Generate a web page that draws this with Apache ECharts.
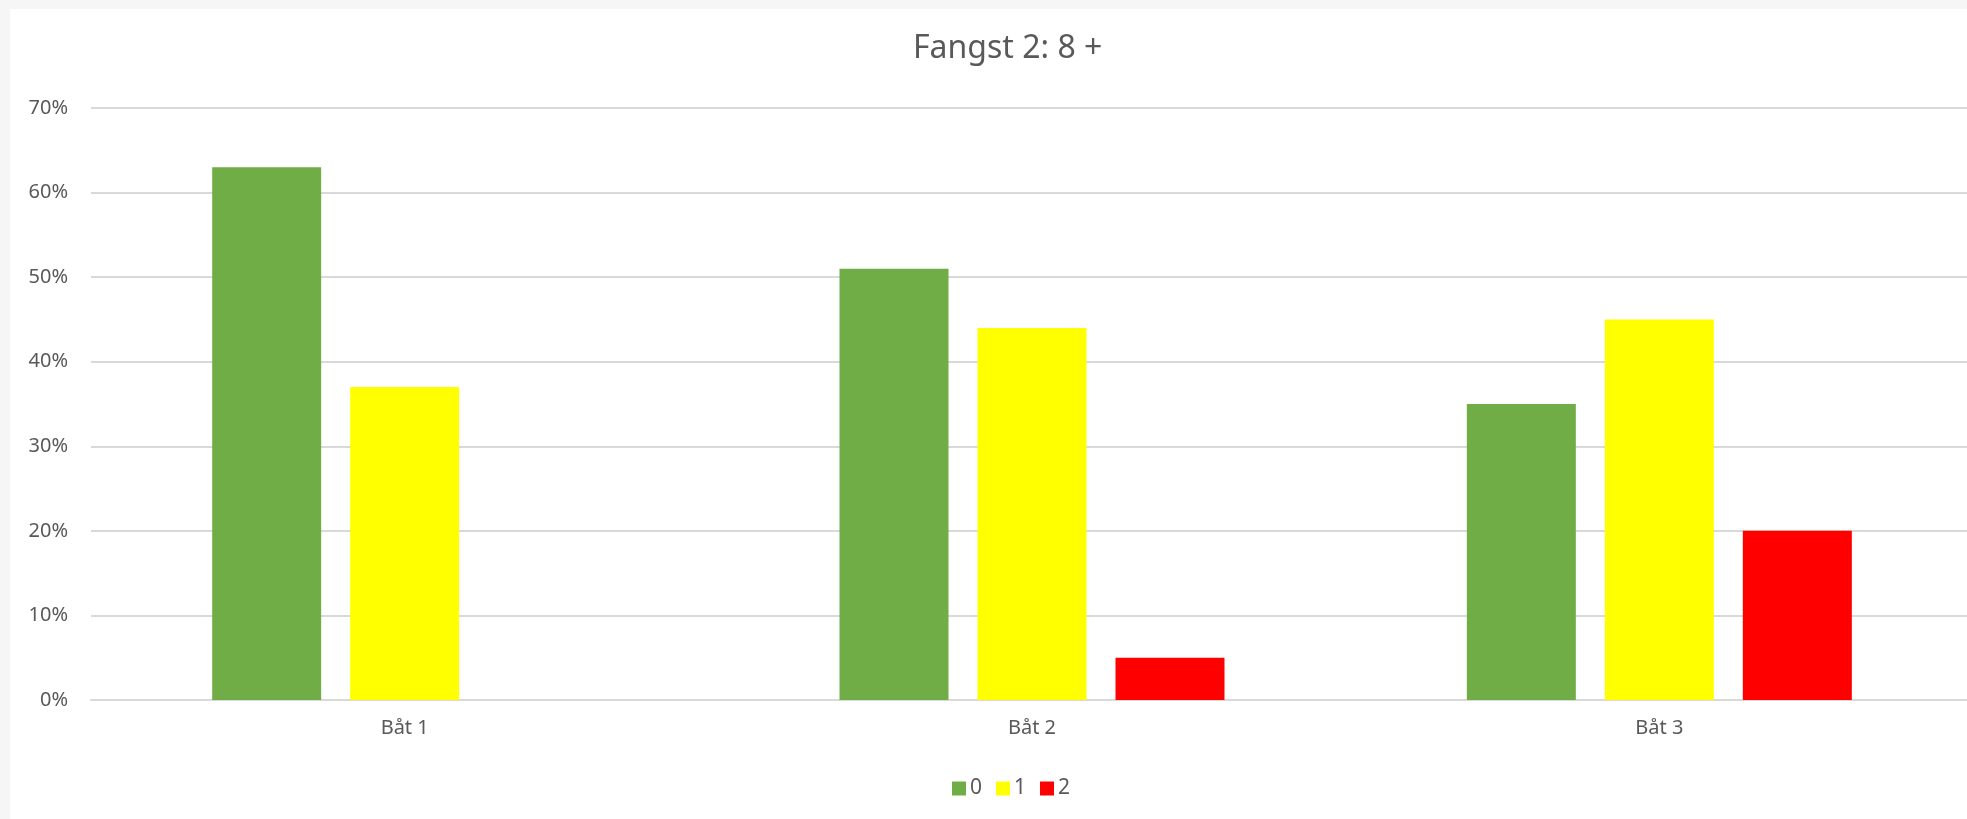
<!DOCTYPE html>
<html>
<head>
<meta charset="utf-8">
<script src="https://cdn.jsdelivr.net/npm/echarts@6/dist/echarts.min.js"></script>
<style>
  html, body { margin: 0; padding: 0; width: 1967px; height: 819px; background: #f6f6f6; overflow: hidden; }
  #chart { position: absolute; left: 10px; top: 9px; width: 1972px; height: 810px; background: #ffffff; }
</style>
</head>
<body>
<div id="chart"></div>
<script>
const titleText = 'Fangst 2: 8 +';
const categories = ['Båt 1', 'Båt 2', 'Båt 3'];
const seriesNames = ['0', '1', '2'];
const values0 = [63, 51, 35];
const values1 = [37, 44, 45];
const values2 = [0, 5, 20];
const colors = ['#70AD47', '#FFFF00', '#FF0000'];

const allValues = [values0, values1, values2];
const font = '"Noto Sans", "Open Sans", sans-serif';

const chart = echarts.init(document.getElementById('chart'), null, { renderer: 'canvas' });
chart.setOption({
  animation: false,
  backgroundColor: '#ffffff',
  title: {
    text: titleText,
    left: 903,
    top: 24,
    padding: 0,
    textStyle: { color: '#595959', fontSize: 32, fontWeight: 'normal', fontFamily: font }
  },
  legend: {
    data: seriesNames,
    left: 942,
    top: 769,
    padding: 0,
    itemWidth: 14,
    itemHeight: 14,
    itemGap: 14,
    icon: 'rect',
    textStyle: { color: '#595959', fontSize: 21, fontFamily: font, padding: [0, 0, 0, -1] }
  },
  grid: { left: 81, top: 99, width: 1882, height: 592, containLabel: false },
  xAxis: {
    type: 'category',
    data: categories,
    axisLine: { show: true, lineStyle: { color: '#d9d9d9', width: 2 } },
    axisTick: { show: false },
    axisLabel: { color: '#595959', fontSize: 20, fontFamily: font, margin: 18 },
    splitLine: { show: false }
  },
  yAxis: {
    type: 'value',
    min: 0,
    max: 70,
    interval: 10,
    axisLine: { show: false },
    axisTick: { show: false },
    axisLabel: { color: '#595959', fontSize: 20, fontFamily: font, margin: 23, formatter: v => v + '%' },
    splitLine: { lineStyle: { color: '#d9d9d9', width: 2 } }
  },
  series: seriesNames.map((name, i) => ({
    name: name,
    type: 'bar',
    data: allValues[i],
    barWidth: 109,
    barGap: (29 / 109 * 100).toFixed(1) + '%',
    itemStyle: { color: colors[i] }
  }))
});
</script>
</body>
</html>
